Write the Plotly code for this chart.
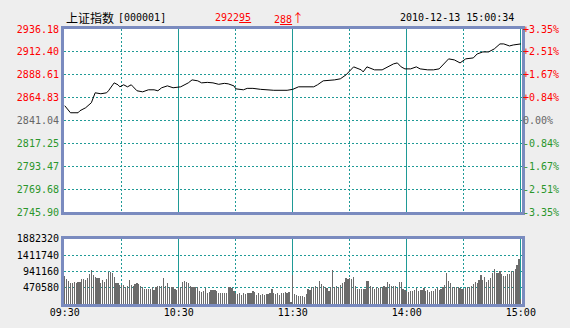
import plotly.graph_objects as go

# ---------------- data ----------------
price_times = ["09:30", "09:33", "09:37", "09:38", "09:41", "09:44", "09:46", "09:49", "09:52", "09:53",
               "09:56", "09:58", "09:59", "10:01", "10:03", "10:05", "10:06", "10:08", "10:11", "10:14",
               "10:17", "10:19", "10:21", "10:24", "10:27", "10:31", "10:35", "10:37", "10:40", "10:42",
               "10:45", "10:48", "10:51", "10:54", "10:56", "10:59", "11:00", "11:04", "11:06", "11:09",
               "11:13", "11:20", "11:27", "11:30",
               "13:03", "13:11", "13:13", "13:16", "13:22", "13:25", "13:28", "13:32", "13:36", "13:37",
               "13:39", "13:43", "13:47", "13:50", "13:53", "13:55", "13:57", "13:59", "14:02", "14:05",
               "14:07", "14:11", "14:14", "14:17", "14:19", "14:22", "14:25", "14:28", "14:31", "14:35",
               "14:37", "14:40", "14:43", "14:46", "14:49", "14:51", "14:54", "14:56", "15:00"]
price_values = [2856.6, 2849.3, 2849.3, 2851.4, 2854.5, 2859.7, 2870.0, 2869.0, 2870.0, 2872.1,
                2880.3, 2878.3, 2876.2, 2878.3, 2876.2, 2878.3, 2876.2, 2872.1, 2871.0, 2873.1,
                2873.1, 2872.1, 2875.2, 2877.2, 2875.2, 2876.2, 2880.3, 2883.4, 2882.4, 2880.3,
                2880.8, 2880.3, 2878.8, 2879.8, 2879.3, 2877.2, 2874.1, 2873.1, 2874.6, 2874.6,
                2873.6, 2872.6, 2872.6, 2873.6,
                2876.2, 2876.2, 2878.3, 2882.4, 2883.4, 2884.5, 2888.6, 2896.9, 2893.8, 2891.7,
                2896.9, 2893.8, 2893.8, 2896.9, 2900.0, 2901.0, 2896.9, 2894.8, 2894.8, 2896.9,
                2894.8, 2893.8, 2893.8, 2894.8, 2899.0, 2905.2, 2904.1, 2901.0, 2905.2, 2906.2,
                2910.3, 2912.4, 2912.4, 2915.5, 2920.7, 2920.7, 2918.6, 2919.6, 2920.7]

# per-minute volume (thousands), 09:30-11:30 then 13:01-15:00
volume_thousands = [
    818, 721, 662, 603, 603, 647, 603, 647, 632, 721,
    721, 706, 765, 868, 971, 838, 794, 750, 765, 603,
    706, 632, 721, 941, 941, 897, 794, 618, 618, 559,
    553, 553, 506, 535, 682, 553, 535, 574, 603, 574,
    524, 506, 426, 426, 426, 426, 485, 406, 485, 535,
    535, 535, 750, 524, 603, 485, 506, 485, 426, 406,
    485, 485, 632, 662, 641, 603, 535, 485, 485, 506,
    485, 388, 359, 388, 456, 329, 359, 406, 406, 406,
    376, 329, 309, 309, 309, 309, 485, 485, 456, 388,
    329, 288, 329, 259, 329, 288, 329, 309, 309, 388,
    338, 259, 309, 259, 288, 259, 288, 288, 309, 426,
    309, 288, 309, 259, 329, 309, 353, 324, 353, 44,
    847, 279, 259, 241, 241, 241, 212, 288, 426, 406,
    485, 485, 524, 485, 653, 582, 535, 485, 456, 388,
    506, 976, 485, 524, 485, 553, 603, 632, 750, 721,
    750, 721, 779, 535, 426, 426, 426, 426, 426, 653,
    653, 535, 485, 426, 485, 456, 506, 485, 535, 485,
    624, 582, 535, 535, 535, 456, 624, 624, 426, 397,
    388, 359, 388, 388, 406, 476, 388, 406, 406, 456,
    388, 406, 359, 388, 388, 426, 456, 406, 426, 506,
    553, 897, 653, 603, 506, 485, 485, 485, 456, 426,
    426, 456, 485, 506, 524, 582, 624, 603, 682, 847,
    700, 779, 624, 700, 750, 897, 1015, 912, 897, 947,
    876, 818, 818, 876, 876, 947, 947, 1015, 1141, 1309,
    132]

price_ticks = [2936.18, 2912.40, 2888.61, 2864.83, 2841.04, 2817.25, 2793.47, 2769.68, 2745.90]
pct_ticks = ["+3.35%", "+2.51%", "+1.67%", "+0.84%", "0.00%", "-0.84%", "-1.67%", "-2.51%", "-3.35%"]
vol_ticks = [470580, 941160, 1411740, 1882320]
time_labels = ["09:30", "10:30", "11:30", "14:00", "15:00"]
half_hour_labels = ["10:00", "11:00", "13:30", "14:30"]
prev_close = 2841.04

title_name = "上证指数"
title_code = "[000001]"
last_price_text = "2922<u>95</u>"
change_text = '2<u>88</u><span style="font-family:Noto Sans CJK SC;font-size:12px">↑</span>'
timestamp = "2010-12-13 15:00:34"

# ---------------- helpers ----------------
def tidx(t):
    h, m = map(int, t.split(":"))
    mins = h * 60 + m
    return mins - 570 if mins <= 690 else 120 + mins - 780

RED = "#FF0000"
GREEN = "#2B962B"
GRAY = "#666666"
GRID = "#1F9A96"
BORDER = "#7A8BBF"
MONO = "DejaVu Sans Mono"

def col(v):
    if abs(v - prev_close) < 0.01:
        return GRAY
    return RED if v > prev_close else GREEN

price_ticktext = [f'<span style="color:{col(v)}">{v:.2f}</span>' for v in price_ticks]
pct_ticktext = [f'<span style="color:{col(v)}">{p}</span>' for v, p in zip(price_ticks, pct_ticks)]

px = [tidx(t) for t in price_times]
vx = list(range(len(volume_thousands)))
vol = [v * 1000 for v in volume_thousands]
major_x = [tidx(t) if t != "11:30" else 120 for t in time_labels]
minor_x = [tidx(t) for t in half_hour_labels]

fig = go.Figure()
fig.add_trace(go.Bar(x=vx, y=vol, width=0.12, marker=dict(color="#6B6B6B", line=dict(width=0)),
                     xaxis="x2", yaxis="y2", hoverinfo="skip", showlegend=False))
fig.add_trace(go.Scatter(x=px, y=price_values, mode="lines",
                         line=dict(color="black", width=1), xaxis="x", yaxis="y",
                         hoverinfo="skip", showlegend=False))
fig.add_trace(go.Scatter(x=px, y=price_values, mode="lines",
                         line=dict(color="rgba(0,0,0,0)", width=0), xaxis="x", yaxis="y3",
                         hoverinfo="skip", showlegend=False))

xr = [-0.4, 240.6]
common_x = dict(range=xr, tickmode="array", tickvals=major_x, showgrid=True, gridcolor=GRID,
                gridwidth=1, griddash="solid", zeroline=False, ticks="", automargin=False,
                minor=dict(tickmode="array", tickvals=minor_x, showgrid=True, gridcolor=GRID,
                           gridwidth=1, griddash="2px,2px", ticks=""),
                showline=True, mirror=True, linecolor=BORDER, linewidth=3, fixedrange=True)

fig.update_layout(
    width=570, height=328,
    margin=dict(l=64, r=48, t=29, b=24, autoexpand=False),
    paper_bgcolor="#EEEEEE", plot_bgcolor="white",
    bargap=0,
    font=dict(family=MONO, size=10, color="black"),
    xaxis=dict(**common_x, domain=[0, 1], anchor="y", showticklabels=False),
    xaxis2=dict(**common_x, domain=[0, 1], anchor="y2", showticklabels=True,
                ticktext=time_labels, ticklabelstandoff=-3,
                tickfont=dict(family=MONO, size=10, color="black")),
    yaxis=dict(domain=[0.333, 1], range=[price_ticks[-1], price_ticks[0]], tickmode="array",
               tickvals=price_ticks, ticktext=price_ticktext, showgrid=True, gridcolor=GRID,
               gridwidth=1, griddash="2px,2px", zeroline=False, ticks="", automargin=False,
               showline=True, mirror=True, linecolor=BORDER, linewidth=3,
               tickfont=dict(family=MONO, size=10), fixedrange=True, anchor="x"),
    yaxis3=dict(overlaying="y", side="right", range=[price_ticks[-1], price_ticks[0]],
                tickmode="array", tickvals=price_ticks, ticktext=pct_ticktext, automargin=False,
                showgrid=False, zeroline=False, ticks="", showline=False,
                tickfont=dict(family=MONO, size=10), fixedrange=True, anchor="x"),
    yaxis2=dict(domain=[0, 0.2364], range=[0, vol_ticks[-1]], tickmode="array",
                tickvals=vol_ticks, ticktext=[str(v) for v in vol_ticks], showgrid=True,
                gridcolor=GRID, gridwidth=1, griddash="2px,2px", zeroline=False, ticks="",
                showline=True, mirror=True, linecolor=BORDER, linewidth=3, automargin=False,
                tickfont=dict(family=MONO, size=10, color="black"), fixedrange=True, anchor="x2"),
)

def head(x_px, text, color, family=MONO, size=10):
    fig.add_annotation(x=(x_px - 64) / 458, y=1, xref="paper", yref="paper",
                       xanchor="left", yanchor="middle", yshift=12, showarrow=False,
                       text=text, font=dict(family=family, size=size, color=color))

head(64, title_name, "black", family="Noto Sans CJK SC", size=12)
head(116, title_code, "black")
head(213, last_price_text, RED)
head(272, change_text, RED)
head(398, timestamp, "black")

fig.write_html("out.html")
